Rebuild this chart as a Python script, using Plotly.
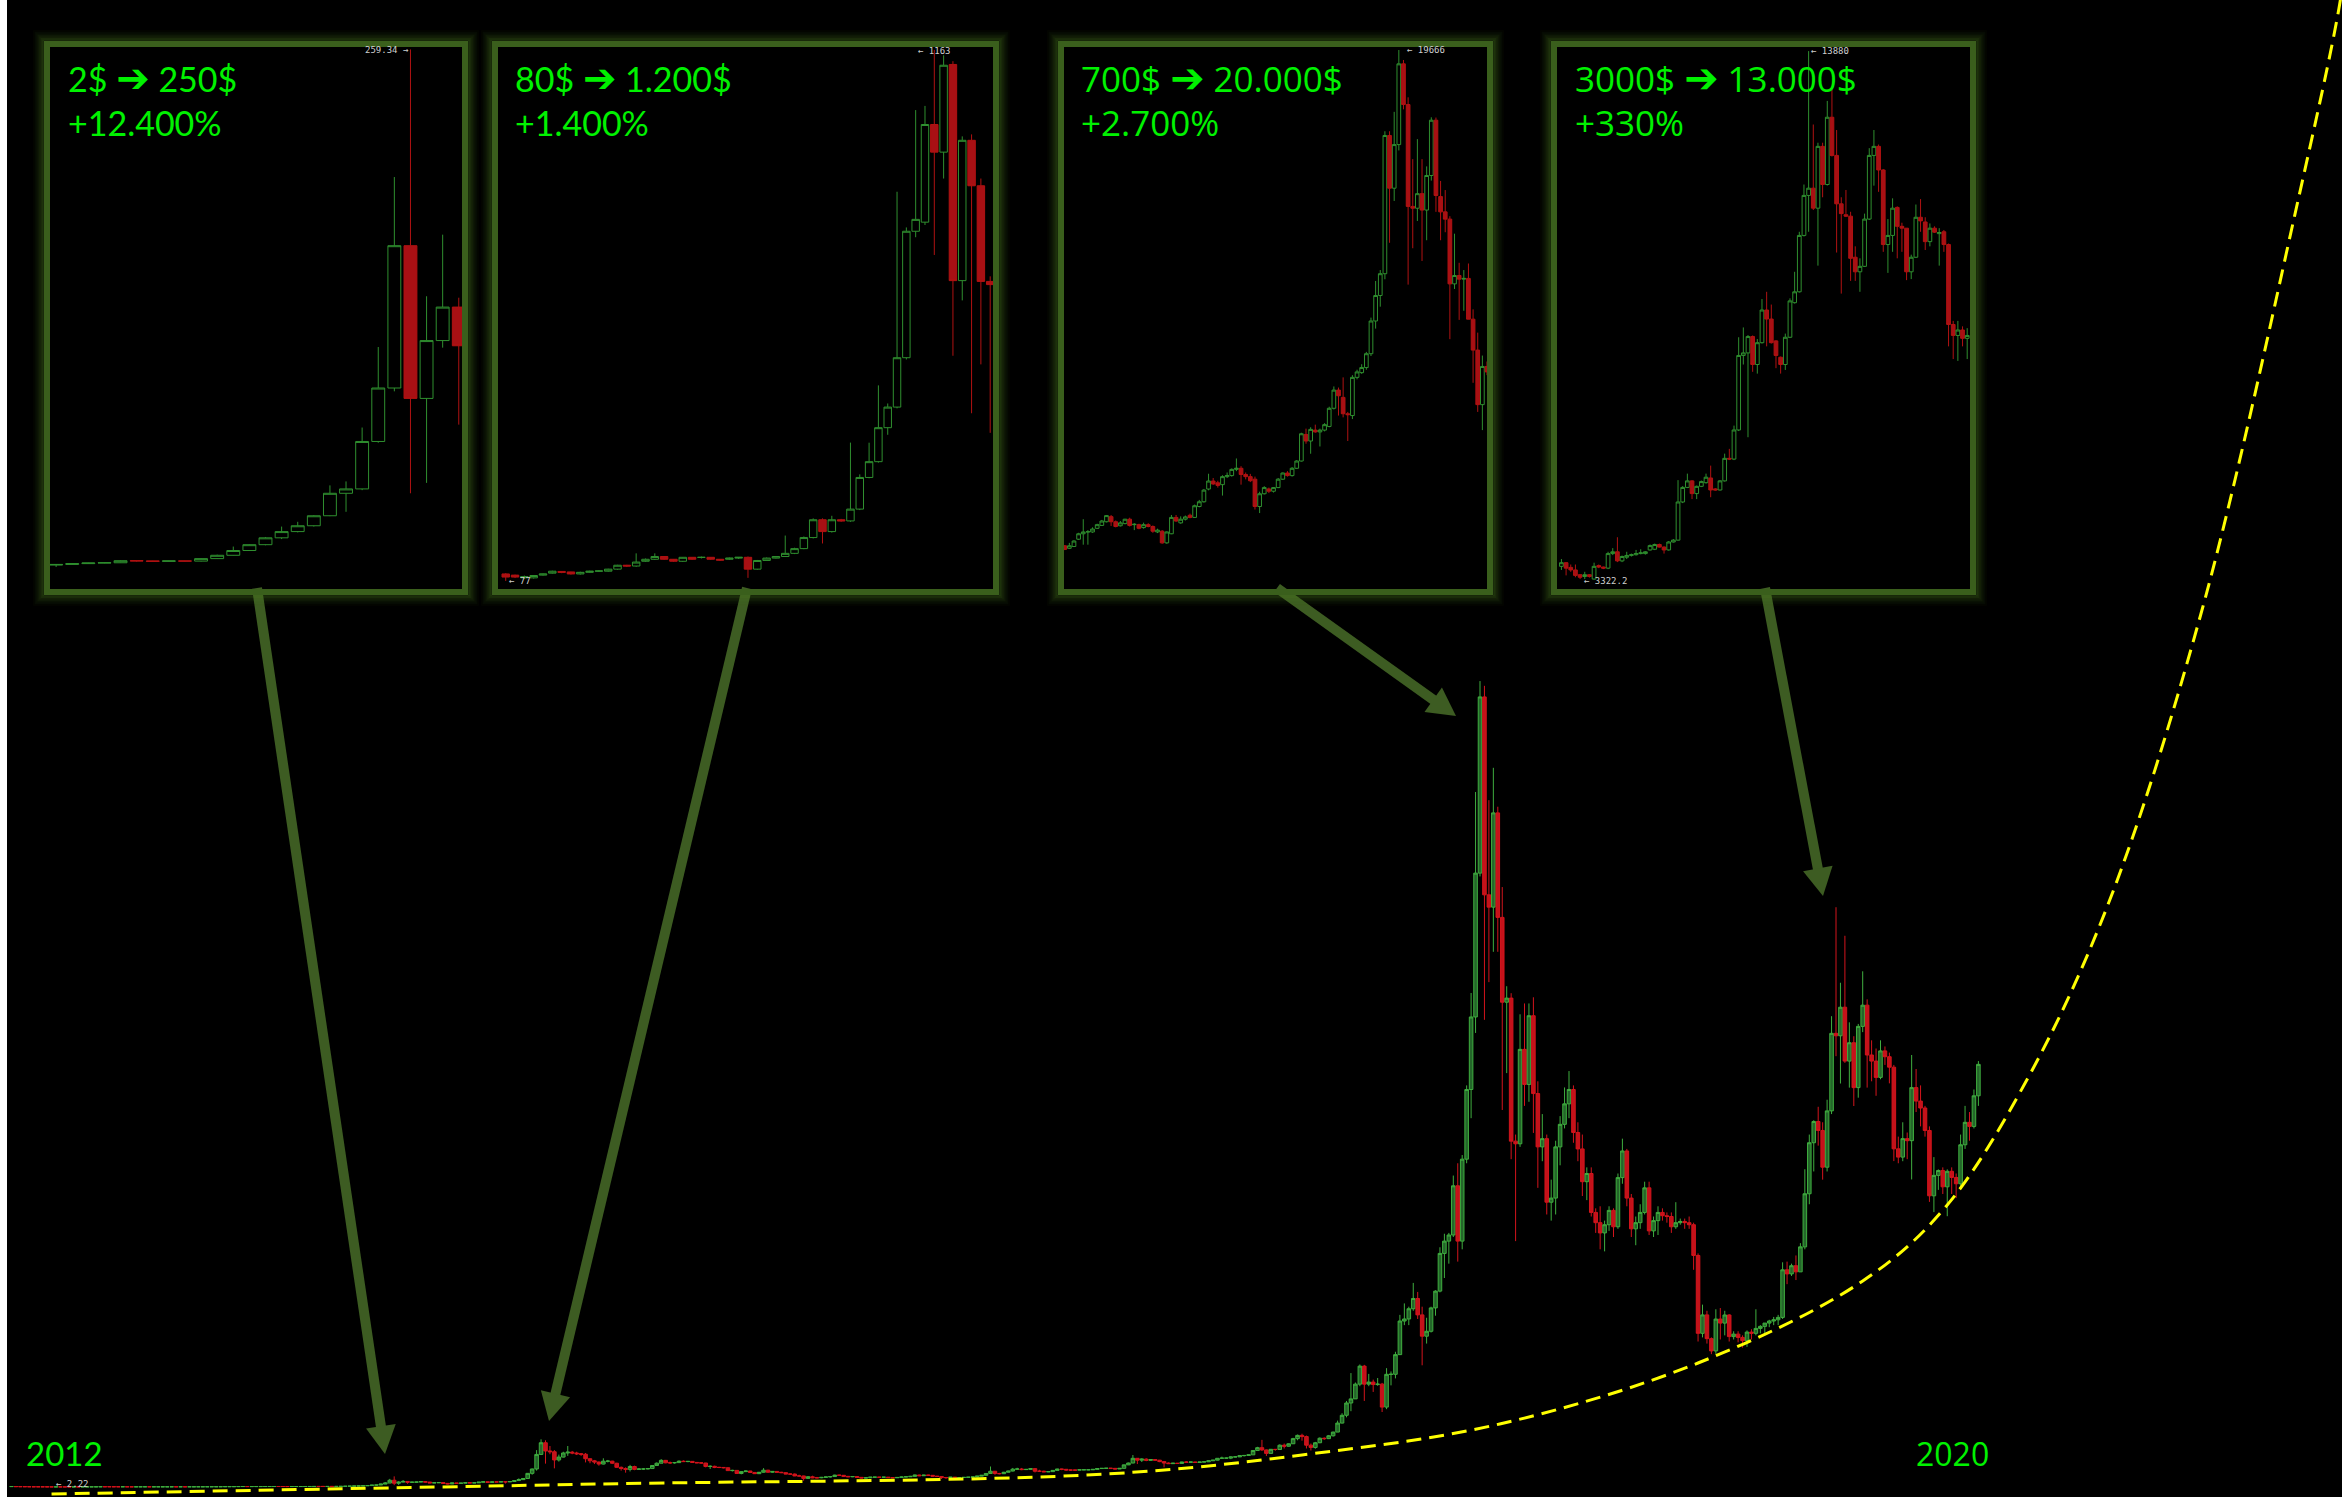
import pandas as pd
import plotly.graph_objects as go

W, H = 2342, 1497
ML = 7

# ---------------------------------------------------------------- main chart: weekly candles (USD)
FIRST_WEEK = "2011-08-15"
FIRST_OPEN = 10.9

C2011 = [11.0, 8.9, 8.2, 7.3, 5.8, 5.4, 5.1, 4.9, 4.0, 2.6, 3.2, 3.0, 2.9, 2.5, 3.0, 2.9, 3.2, 3.8, 3.9, 4.7]
H2011 = [11.9, 11.2, 9.0, 8.3, 7.4, 6.3, 5.6, 5.2, 5.0, 4.1, 3.4, 3.3, 3.1, 3.0, 3.2, 3.2, 3.3, 4.0, 4.2, 4.9]
L2011 = [10.6, 8.6, 7.9, 6.9, 5.4, 4.8, 4.7, 4.6, 3.8, 2.22, 2.5, 2.8, 2.7, 2.3, 2.5, 2.7, 2.8, 3.1, 3.6, 3.9]

C2012 = [6.8, 6.4, 6.3, 6.2, 5.6, 5.9, 5.0, 4.5, 4.9, 4.9, 5.3, 4.8, 4.9,
         4.9, 4.9, 5.0, 5.1, 5.0, 5.1, 5.0, 5.1, 5.1, 5.3, 5.6, 6.4, 6.6,
         6.7, 7.6, 8.7, 8.9, 9.3, 10.9, 11.9, 10.2, 10.7, 11.0, 11.3, 12.2, 12.3,
         12.4, 11.9, 11.7, 10.9, 11.5, 11.8, 12.2, 12.5, 12.6, 13.6, 13.5, 13.3, 13.5, 13.4]
H2012 = [7.2, 7.0, 6.9, 6.6, 6.3, 6.1, 6.0, 5.2, 5.1, 5.1, 5.4, 5.4, 5.0,
         5.0, 5.0, 5.1, 5.2, 5.2, 5.2, 5.2, 5.2, 5.2, 5.4, 5.7, 6.5, 6.8,
         6.9, 7.7, 8.9, 9.2, 9.5, 11.0, 15.4, 11.5, 10.9, 11.1, 11.6, 12.4, 12.5,
         12.6, 12.5, 12.0, 11.8, 11.6, 12.0, 12.4, 12.6, 12.8, 13.8, 13.7, 13.6, 13.6, 13.6]
L2012 = [4.6, 6.0, 5.9, 5.8, 5.5, 5.5, 4.3, 4.3, 4.4, 4.7, 4.8, 4.6, 4.7,
         4.8, 4.8, 4.8, 4.9, 4.9, 4.9, 4.9, 4.9, 5.0, 5.0, 5.3, 5.5, 6.2,
         6.4, 6.6, 7.5, 8.2, 8.8, 9.2, 10.6, 7.5, 9.9, 10.4, 10.8, 11.1, 11.8,
         12.0, 11.5, 11.4, 10.3, 10.6, 10.6, 11.7, 12.0, 12.4, 12.5, 13.2, 13.1, 13.2, 13.2]

C2013 = [14.6, 16.2, 18.5, 21.3, 24.6, 27.6, 30.4, 35.2, 46.0, 48.1, 70.9, 96.6,
         165, 91.6, 119.4, 135.5, 116.9, 117, 122, 131, 120, 100, 103, 108, 88,
         76, 98, 89, 95, 104, 101, 102, 118, 127, 115, 124, 123, 128, 125,
         134, 157, 180, 208, 333, 440, 795, 1080, 880, 860, 660, 730, 830]
H2013 = [14.8, 16.5, 20.4, 21.5, 25.0, 30.0, 32.3, 35.5, 49.8, 51.7, 77.6, 116.3,
         198, 259.34, 140.7, 170.3, 140, 128, 125, 133, 135, 124, 110, 112, 110,
         90, 100, 99, 97, 107, 106, 104, 120, 135, 130, 128, 128, 130, 131,
         136, 158, 210, 215, 340, 450, 900, 1163, 1140, 1000, 900, 790, 860]
L2013 = [13.2, 14.4, 16.3, 18.4, 21.0, 24.0, 27.2, 30.0, 35.0, 37.1, 47.5, 70.3,
         95, 46, 51, 116, 79, 105, 110, 120, 116, 98, 96, 97, 87,
         65, 70, 86, 87, 93, 97, 97, 100, 117, 110, 115, 120, 121, 85,
         118, 133, 155, 175, 205, 300, 400, 780, 570, 800, 455, 620, 720]

C2014 = [850, 830, 810, 800, 690, 640, 610, 560, 630, 630, 580, 480, 450,
         430, 500, 430, 440, 440, 450, 525, 580, 650, 590, 590, 595, 630,
         620, 625, 600, 590, 585, 500, 505, 480, 477, 470, 400, 405, 330,
         375, 390, 355, 325, 360, 410, 360, 380, 360, 350, 315, 315, 270]
H2014 = [1000, 880, 860, 830, 830, 700, 660, 620, 700, 660, 640, 590, 500,
         480, 540, 520, 460, 460, 460, 530, 600, 680, 660, 620, 610, 650,
         650, 635, 630, 605, 600, 590, 530, 520, 490, 480, 480, 420, 410,
         390, 400, 395, 360, 365, 460, 420, 385, 385, 370, 360, 330, 330]
L2014 = [760, 800, 780, 760, 600, 580, 560, 520, 550, 600, 560, 470, 400,
         350, 380, 410, 420, 420, 430, 445, 520, 580, 580, 560, 570, 590,
         610, 605, 590, 580, 570, 480, 440, 460, 460, 455, 390, 380, 320,
         310, 370, 350, 320, 320, 350, 350, 350, 355, 340, 310, 305, 265]

C2015 = [270, 210, 250, 225, 225, 235, 245, 255, 290, 285, 260, 250, 255,
         235, 220, 225, 240, 240, 237, 240, 230, 225, 233, 245, 250, 260,
         292, 275, 289, 285, 265, 257, 230, 229, 240, 230, 232, 235, 240,
         245, 265, 285, 330, 385, 330, 325, 360, 390, 435, 440, 425, 430]
H2015 = [300, 275, 265, 275, 245, 245, 250, 265, 300, 300, 290, 270, 260,
         260, 240, 237, 245, 245, 245, 245, 242, 235, 236, 253, 260, 270,
         300, 300, 300, 300, 290, 270, 260, 240, 245, 245, 240, 240, 245,
         250, 270, 290, 335, 500, 390, 345, 370, 395, 465, 470, 465, 440]
L2015 = [260, 152, 205, 215, 210, 215, 230, 230, 250, 270, 250, 240, 240,
         230, 215, 215, 220, 230, 232, 232, 225, 220, 222, 230, 240, 248,
         255, 265, 270, 280, 260, 255, 195, 200, 225, 228, 225, 225, 230,
         235, 240, 265, 280, 325, 300, 310, 320, 355, 380, 420, 410, 415]

C2016 = [448, 385, 385, 370, 375, 405, 438, 432, 415, 412, 412, 420, 420,
         420, 430, 450, 455, 458, 455, 440, 455, 540, 585, 700, 655, 680,
         650, 670, 655, 620, 585, 570, 580, 575, 610, 605, 610, 600, 610,
         615, 640, 655, 700, 705, 705, 735, 735, 765, 770, 785, 890, 960]
H2016 = [460, 455, 420, 400, 380, 410, 445, 445, 440, 420, 418, 420, 425,
         425, 432, 455, 462, 460, 462, 458, 456, 545, 595, 780, 690, 700,
         700, 680, 680, 660, 630, 600, 590, 585, 615, 630, 615, 612, 612,
         620, 645, 660, 705, 740, 720, 750, 745, 770, 780, 790, 900, 980]
L2016 = [425, 355, 370, 365, 365, 370, 400, 410, 395, 395, 405, 410, 412,
         410, 420, 428, 440, 440, 445, 435, 440, 455, 535, 580, 560, 610,
         630, 640, 650, 605, 480, 565, 565, 565, 570, 595, 600, 590, 595,
         605, 612, 635, 650, 690, 690, 680, 725, 730, 745, 765, 785, 880]

C2017 = [905, 820, 920, 915, 1020, 995, 1055, 1180, 1260, 1230, 1020, 965, 1080,
         1190, 1180, 1250, 1340, 1560, 1750, 2050, 2150, 2510, 2950, 2510, 2560, 2500,
         2510, 1950, 2750, 2750, 3230, 4050, 4100, 4350, 4600, 4200, 3680, 3800, 4370,
         4780, 5700, 6000, 6150, 7350, 6000, 8000, 9700, 11470, 14980, 19280, 14450, 14150]
H2017 = [1150, 915, 920, 925, 1040, 1060, 1065, 1200, 1280, 1300, 1255, 1060, 1100,
         1210, 1210, 1270, 1350, 1620, 1800, 2100, 2780, 2550, 2990, 2980, 2760, 2620,
         2660, 2540, 2900, 2820, 3300, 4200, 4480, 4400, 4980, 4760, 4400, 4130, 4400,
         4800, 5850, 6180, 6200, 7600, 7900, 8100, 9800, 12055, 16960, 19666, 19550, 16760]
L2017 = [880, 755, 815, 885, 910, 940, 985, 1050, 1140, 1130, 940, 890, 935,
         1070, 1150, 1170, 1230, 1340, 1550, 1700, 1850, 2150, 2460, 2100, 2460, 2320,
         2470, 1830, 1900, 2480, 2650, 3220, 3950, 3950, 4300, 4100, 2970, 3500, 3770,
         4180, 4750, 5100, 5450, 6100, 5500, 5800, 7900, 9000, 11080, 14900, 11400, 12320]

C2018 = [16450, 13900, 11830, 11930, 8440, 8375, 10679, 9823, 11500, 9600, 8300, 8500, 6950,
         7050, 8300, 8850, 9350, 9700, 8650, 8250, 7450, 7650, 6700, 6450, 6200, 6400,
         6750, 6350, 7550, 8200, 7050, 6300, 6450, 6700, 7300, 6250, 6500, 6700, 6620,
         6600, 6350, 6450, 6480, 6450, 6400, 5650, 3750, 4200, 3620, 3321, 4098, 3999, 4198]
H2018 = [17550, 16600, 14640, 12220, 12050, 8600, 11535, 11800, 11800, 11950, 9900, 9100, 8600,
         7500, 8450, 9050, 9750, 10150, 9800, 8900, 8600, 7800, 7800, 6800, 6850, 6500,
         6850, 6800, 7650, 8500, 8250, 7150, 6600, 6900, 7450, 7450, 6600, 6850, 6800,
         6700, 6700, 6950, 6550, 6550, 6600, 6450, 5700, 4450, 4300, 3650, 4337, 4367, 4300]
L2018 = [13060, 13060, 9200, 10100, 8000, 6000, 8300, 9300, 9400, 8640, 7300, 7950, 6650,
         6500, 6650, 7850, 8750, 9000, 8400, 7950, 7100, 7000, 6600, 6200, 5800, 5750,
         6250, 6100, 6300, 7400, 6850, 6100, 5900, 6300, 6650, 6150, 6100, 6150, 6500,
         6450, 6200, 6300, 6400, 6300, 6300, 5300, 3550, 3650, 3500, 3242, 3250, 3600, 3700]

C2019 = [3670, 3730, 3650, 3570, 3780, 3750, 3870, 3920, 4000, 4050, 4080, 4139,
         5300, 5200, 5400, 5250, 5860, 7156, 8401, 8919, 8700, 7804, 9178, 11070, 11011,
         11708, 10393, 10841, 9746, 11240, 11758, 10542, 10393, 9995,
         10642, 10500, 10244, 8252, 8050, 8501, 8451, 9746, 9417,
         9248, 8700, 7106, 7604, 7724, 7325, 7704, 7554, 7400]
H2019 = [4218, 3800, 3800, 3700, 3820, 3850, 4337, 3950, 4000, 4080, 4150, 4200,
         5483, 5500, 5450, 5650, 5950, 7754, 8600, 8950, 9278, 8900, 9450, 11489, 14148,
         12305, 13451, 11339, 11000, 11300, 12584, 11900, 10900, 10700,
         10900, 10750, 10600, 10300, 8550, 8900, 8650, 10542, 10200,
         9800, 9300, 8800, 8050, 7750, 7800, 7750, 7800, 7650]
L2019 = [3550, 3600, 3530, 3400, 3420, 3600, 3700, 3750, 3700, 3900, 3950, 3950,
         4100, 4950, 5150, 5050, 5250, 5800, 6900, 7700, 8330, 7500, 7700, 9100, 10513,
         9846, 10350, 9746, 9297, 9500, 11100, 9746, 9900, 9546,
         9950, 10300, 9850, 7953, 7900, 7950, 8000, 7505, 9150,
         8800, 8550, 6957, 6708, 7250, 7150, 6608, 7150, 7050]

C2020 = [8351, 8899, 8799, 9546, 10313]
H2020 = [8600, 9300, 9150, 9700, 10393]
L2020 = [7350, 8250, 8450, 8750, 9300]

CLOSE = C2011 + C2012 + C2013 + C2014 + C2015 + C2016 + C2017 + C2018 + C2019 + C2020
HIGH = H2011 + H2012 + H2013 + H2014 + H2015 + H2016 + H2017 + H2018 + H2019 + H2020
LOW = L2011 + L2012 + L2013 + L2014 + L2015 + L2016 + L2017 + L2018 + L2019 + L2020
OPEN = [FIRST_OPEN] + CLOSE[:-1]
WEEKS = pd.date_range(FIRST_WEEK, periods=len(CLOSE), freq="7D")

# yellow dashed support curve
CURVE_DATES = ["2011-10-17", "2014-02-24", "2016-05-02", "2017-03-06", "2018-01-11",
               "2018-11-19", "2019-08-05", "2019-12-12", "2020-04-20", "2020-08-24",
               "2021-01-18", "2021-06-21", "2021-08-23", "2021-09-05"]
CURVE_VALUES = [-171, 73, 317, 781, 1537, 3026, 5027, 6808, 9956, 14178,
                21303, 31479, 36066, 37500]

# ---------------------------------------------------------------- inset 1 (weekly slice of main data)
INSET1_FROM, INSET1_TO = "2012-11-05", "2013-04-29"

# ---------------------------------------------------------------- inset 2 (3-day candles, 2013)
INSET2_START = "2013-07-14"
I2_O = [91.4, 89, 83.4, 83.4, 89, 93, 96.5, 95.5, 91.4, 94.7,
        97, 97, 101.2, 109.2, 107.6, 117.3, 121.4, 127, 121.4, 117.3,
        125.4, 125, 125.4, 121.4, 121.4, 123.8, 125.4, 101.2, 118.9, 123.8,
        127, 133.5, 143.2, 165.8, 202.2, 178, 202.2, 199.8, 224, 288.7,
        321, 390.5, 432.6, 533.6, 792.2, 810.8, 1010.5, 954, 1133.3, 691.2,
        978.2, 885.2, 689.6]
I2_H = [93, 90, 88, 89, 92, 98, 97, 96, 96, 98,
        99, 102, 110, 110, 133.5, 123, 133.5, 128, 122, 126,
        126, 127, 126, 122, 125, 126, 127, 120, 125, 128,
        169.9, 145, 168, 205, 205, 210.3, 204, 360, 295, 359.8,
        477, 440, 873, 800, 1040, 1048.5, 1163, 1152, 1140, 986.2,
        990.3, 900, 700]
I2_L = [77, 83, 82, 82, 88, 92, 93, 90, 90, 94,
        96, 96, 100, 106, 106, 116, 120, 120, 116, 116,
        120, 123, 120, 118, 120, 122, 83.4, 100, 118, 123,
        126, 132, 142, 164, 153.7, 176, 198, 198, 222, 287,
        319, 376, 430, 530, 780, 805, 743.7, 900, 537.6, 650.8,
        420, 520, 380]
I2_C = [85, 85, 86, 88.2, 91.4, 97, 94.7, 91.4, 94.7, 97,
        97.5, 101.2, 109.2, 107.6, 115.7, 121.4, 127, 121.4, 117.3, 125.4,
        121.4, 125.4, 121.4, 119.7, 123.8, 125.4, 101.2, 118.9, 123.8, 127,
        133.5, 143.2, 165.8, 202.2, 178, 202.2, 199.8, 224, 288.7, 321,
        390.5, 432.6, 533.6, 792.2, 816.5, 1010.5, 954, 1131.7, 691.2, 978.2,
        885.2, 689.6, 683.1]

# ---------------------------------------------------------------- inset 3 (3-day candles, 2017)
INSET3_START = "2017-05-13"
I3_O = [1577, 1484, 1551, 1816, 2015, 2081, 2081, 2214, 2320, 2453,
        2639, 2453, 2307, 2386, 2546, 2347, 2347, 2241, 2347, 2280,
        2081, 2108, 1683, 2015, 2612, 2413, 2546, 2690, 2612, 3010,
        3183, 3647, 3939, 3873, 3807, 4099, 4138, 4364, 4404, 4178,
        4099, 4006, 3010, 3475, 3650, 3567, 3700, 4006, 4231, 4138,
        4404, 4669, 5638, 5399, 5797, 5731, 5797, 5930, 6593, 7257,
        6991, 6394, 6328, 7721, 7894, 8079, 8584, 9778, 10707, 11503,
        16546, 14622, 16214, 19160, 17674, 13958, 13892, 14423, 13825, 15086,
        17103, 14316, 13759, 13494, 11132, 11437, 11304, 11331, 9844, 8716,
        6726, 8119]
I3_H = [1600, 1683, 1780, 2050, 2546, 2150, 2250, 2380, 2520, 2700,
        2700, 2500, 2480, 2560, 2600, 2400, 2380, 2420, 2400, 2320,
        2200, 2150, 2100, 2700, 2700, 2650, 2680, 2750, 3080, 3250,
        3650, 4205, 4050, 3950, 4150, 4250, 4400, 4762, 4480, 4250,
        4200, 4100, 3550, 3750, 3700, 3720, 4050, 4250, 4300, 4450,
        4700, 5700, 5850, 5900, 5996, 5850, 6050, 6650, 7390, 7350,
        7721, 6460, 7800, 8000, 8200, 8650, 9900, 11238, 11636, 16700,
        16700, 17408, 19664, 19300, 17939, 15683, 16413, 15683, 15418, 17209,
        17200, 14887, 14555, 13600, 12963, 11901, 11636, 11875, 10203, 9353,
        8517, 8300]
I3_L = [1420, 1460, 1530, 1790, 1617, 1617, 2050, 2190, 2300, 2430,
        2300, 2250, 2280, 2360, 2280, 2148, 2180, 2200, 2250, 2050,
        2040, 1650, 1650, 2000, 2450, 2380, 2500, 2580, 2600, 2980,
        3150, 3600, 3800, 3700, 3408, 4050, 4100, 4300, 3807, 4000,
        3900, 2900, 2771, 3450, 3500, 3520, 3680, 3980, 4100, 4100,
        4380, 4650, 5300, 4935, 5700, 5200, 5750, 5900, 6550, 6328,
        6262, 5399, 6200, 7650, 7850, 8000, 8500, 9500, 10300, 11300,
        12631, 14157, 16000, 17500, 11105, 12432, 13427, 11968, 12724, 14900,
        13759, 12724, 13016, 9115, 10946, 9818, 10150, 9844, 7523, 6460,
        5797, 7800]
I3_C = [1444, 1577, 1750, 2015, 2081, 2090, 2187, 2347, 2480, 2678,
        2453, 2280, 2413, 2546, 2320, 2360, 2214, 2347, 2280, 2108,
        2148, 1683, 2081, 2612, 2480, 2546, 2630, 2610, 3037, 3183,
        3608, 3939, 3833, 3780, 4099, 4138, 4364, 4404, 4178, 4099,
        3950, 3010, 3475, 3700, 3567, 3700, 4006, 4231, 4138, 4404,
        4669, 5664, 5399, 5824, 5731, 5797, 5996, 6593, 7257, 7050,
        6394, 6360, 7721, 7920, 8079, 8584, 9778, 10707, 11503, 16546,
        14622, 16214, 19160, 17674, 13958, 13892, 14423, 13825, 15086, 17103,
        14356, 13759, 13494, 11132, 11437, 11304, 11331, 9844, 8716, 6726,
        8119, 7920]

# ---------------------------------------------------------------- inset 4 (3-day candles, 2019)
INSET4_START = "2019-01-18"
I4_O = [3575, 3648, 3554, 3503, 3408, 3372, 3408, 3321, 3590, 3561,
        3539, 3830, 3866, 3684, 3757, 3793, 3808, 3830, 3830, 3903,
        3917, 4012, 3960, 3903, 4062, 4099, 4862, 5153, 5284, 5030,
        5175, 5248, 5342, 5124, 5102, 5284, 5735, 5720, 6302, 7792,
        7843, 8170, 7611, 8047, 8701, 8520, 8083, 7756, 7611, 8156,
        8847, 9065, 10192, 10992, 11137, 10737, 11973, 11210, 12555, 11792,
        10824, 10606, 10577, 9756, 9465, 9574, 10519, 11792, 11973, 11501,
        10010, 10192, 10752, 10374, 10337, 9465, 9756, 10555, 10461, 10068,
        10337, 10228, 10265, 10010, 8411, 8192, 8301, 8134]
I4_H = [3721, 3660, 3612, 3612, 3420, 3466, 3420, 3648, 3612, 3570,
        3866, 3939, 4157, 3790, 3866, 3830, 3903, 3917, 3880, 4012,
        4030, 4030, 3975, 4080, 4120, 5299, 5180, 5429, 5300, 5190,
        5290, 5429, 5589, 5140, 5300, 5829, 5924, 6389, 8156, 8352,
        8200, 8192, 8120, 8920, 9065, 8810, 8100, 7770, 8229, 8934,
        9465, 10265, 11210, 13878, 12410, 12046, 12046, 12882, 13137, 12300,
        10955, 11101, 10665, 9974, 9734, 10628, 11937, 12300, 12010, 11520,
        10519, 10934, 10774, 10446, 10337, 9807, 10810, 10919, 10555, 10432,
        10374, 10337, 10301, 10030, 8483, 8483, 8374, 8338]
I4_L = [3503, 3394, 3466, 3357, 3321, 3321, 3350, 3310, 3539, 3520,
        3520, 3800, 3660, 3660, 3721, 3770, 3790, 3815, 3810, 3890,
        3900, 3950, 3830, 3890, 4050, 4090, 4840, 5140, 4920, 4920,
        5160, 5230, 4957, 5090, 5090, 5270, 5700, 5700, 6280, 7611,
        6157, 7465, 7429, 8030, 7974, 8030, 7538, 7429, 7502, 8140,
        8830, 9050, 10170, 10265, 10700, 9588, 10955, 11190, 11770, 9850,
        9029, 10560, 9283, 9283, 9065, 9560, 10500, 11188, 11064, 9864,
        9443, 9864, 9734, 9864, 9298, 9319, 9740, 10265, 9901, 9974,
        10240, 9588, 9864, 7974, 7720, 7683, 7974, 7720]
I4_C = [3648, 3539, 3503, 3394, 3357, 3408, 3372, 3575, 3561, 3539,
        3830, 3866, 3684, 3772, 3793, 3808, 3830, 3844, 3866, 3990,
        4012, 3960, 3903, 4062, 4099, 4862, 5153, 5284, 5030, 5175,
        5270, 5357, 5102, 5102, 5284, 5735, 5720, 6302, 7792, 7843,
        8170, 7611, 8047, 8701, 8520, 8047, 7792, 7611, 8156, 8883,
        9065, 10192, 10992, 11137, 10737, 11973, 11210, 12555, 11792, 10824,
        10628, 10577, 9734, 9465, 9574, 10519, 11792, 11973, 11501, 10010,
        10192, 10737, 10374, 10337, 9465, 9756, 10555, 10483, 10068, 10337,
        10257, 10250, 10010, 8411, 8192, 8301, 8134, 8192]

LABELS = [("2$", "250$", "+12.400%"), ("80$", "1.200$", "+1.400%"),
          ("700$", "20.000$", "+2.700%"), ("3000$", "13.000$", "+330%")]
ARROW_CHAR = "➔"
YEAR_LABELS = ["2012", "2020"]

# ================================================================ layout helpers (pixel -> paper)
def fx(px):
    return (px - ML) / (W - ML)


def fy(py):
    return 1 - py / H


t0 = pd.Timestamp("2017-12-11")
PXW = 4.45          # pixels per weekly candle
X_PEAK = 1480       # pixel position of the 2017-12-11 candle
Y_ZERO = 1487       # pixel of price 0
PX_PER_USD = 0.04098


def wk(n):
    return t0 + pd.Timedelta(days=7 * n)


fig = go.Figure()

INC_MAIN = dict(line=dict(color="#3fae3f", width=1), fillcolor="#24662a")
DEC_MAIN = dict(line=dict(color="#d3141c", width=1), fillcolor="#c4121a")
INC_IN = dict(line=dict(color="#2f8f2f", width=1), fillcolor="#000000")
DEC_IN = dict(line=dict(color="#b01212", width=1), fillcolor="#a81014")

fig.add_trace(go.Scatter(x=CURVE_DATES, y=CURVE_VALUES, mode="lines",
                         line=dict(color="#ffff00", width=3, dash="15px,8px",
                                   shape="spline", smoothing=1.0),
                         hoverinfo="skip", showlegend=False))
fig.add_trace(go.Candlestick(x=WEEKS, open=OPEN, high=HIGH, low=LOW, close=CLOSE,
                             increasing=INC_MAIN, decreasing=DEC_MAIN,
                             whiskerwidth=0, showlegend=False, hoverinfo="skip"))

# inset 1 data
m1 = (WEEKS >= pd.Timestamp(INSET1_FROM)) & (WEEKS <= pd.Timestamp(INSET1_TO))
idx1 = [i for i, ok in enumerate(m1) if ok]
ins_data = [
    (WEEKS[m1], [OPEN[i] for i in idx1], [HIGH[i] for i in idx1],
     [LOW[i] for i in idx1], [CLOSE[i] for i in idx1]),
    (pd.date_range(INSET2_START, periods=len(I2_C), freq="3D"), I2_O, I2_H, I2_L, I2_C),
    (pd.date_range(INSET3_START, periods=len(I3_C), freq="3D"), I3_O, I3_H, I3_L, I3_C),
    (pd.date_range(INSET4_START, periods=len(I4_C), freq="3D"), I4_O, I4_H, I4_L, I4_C),
]

BOX_X = [(50, 462), (498, 993), (1064, 1487), (1557, 1970)]
BOX_Y = (47, 589)
STEP_DAYS = [7, 3, 3, 3]
XSPAN = [(-0.38, 25.2), (-0.83, 52.3), (-0.15, 91.0), (-0.95, 87.6)]
YSPAN = [(0, 260.5), (60.6, 1169), (0, 19774), (3122, 13960)]

for k, (xs, o, h, l, c) in enumerate(ins_data):
    n = k + 2
    fig.add_trace(go.Candlestick(x=xs, open=o, high=h, low=l, close=c,
                                 increasing=INC_IN, decreasing=DEC_IN, whiskerwidth=0,
                                 xaxis="x%d" % n, yaxis="y%d" % n,
                                 showlegend=False, hoverinfo="skip"))

layout = dict(
    width=W, height=H,
    margin=dict(l=ML, r=0, t=0, b=0),
    paper_bgcolor="#ffffff", plot_bgcolor="#000000",
    showlegend=False,
    boxgap=0.2, boxgroupgap=0.0,
    xaxis=dict(range=[wk((ML - X_PEAK) / PXW), wk((W - X_PEAK) / PXW)],
               visible=False, rangeslider=dict(visible=False), fixedrange=True),
    yaxis=dict(range=[(Y_ZERO - H) / PX_PER_USD, Y_ZERO / PX_PER_USD],
               visible=False, fixedrange=True),
)
for k in range(4):
    n = k + 2
    xs0 = ins_data[k][0][0]
    a, b = XSPAN[k]
    layout["xaxis%d" % n] = dict(
        domain=[fx(BOX_X[k][0]), fx(BOX_X[k][1])], anchor="y%d" % n,
        range=[xs0 + pd.Timedelta(days=STEP_DAYS[k] * a), xs0 + pd.Timedelta(days=STEP_DAYS[k] * b)],
        visible=False, rangeslider=dict(visible=False), fixedrange=True)
    layout["yaxis%d" % n] = dict(
        domain=[fy(BOX_Y[1]), fy(BOX_Y[0])], anchor="x%d" % n,
        range=list(YSPAN[k]), visible=False, fixedrange=True)
fig.update_layout(**layout)

shapes = []
ARROW = "#3d5c22"
ARROWS = [((257, 588), (385, 1454)), ((747, 588), (549, 1421)),
          ((1277, 588), (1456, 716)), ((1765, 588), (1823, 896))]
for (x0, y0), (x1, y1) in ARROWS:
    dx, dy = x1 - x0, y1 - y0
    ln = (dx * dx + dy * dy) ** 0.5
    ux, uy = dx / ln, dy / ln
    hl, hw = 28, 15
    bx, by = x1 - ux * hl, y1 - uy * hl
    shapes.append(dict(type="line", xref="paper", yref="paper",
                       x0=fx(x0), y0=fy(y0), x1=fx(bx + ux * 2), y1=fy(by + uy * 2),
                       line=dict(color=ARROW, width=10)))
    p1 = (bx - uy * hw, by + ux * hw)
    p2 = (bx + uy * hw, by - ux * hw)
    shapes.append(dict(type="path", xref="paper", yref="paper",
                       path="M %f %f L %f %f L %f %f Z" % (fx(x1), fy(y1), fx(p1[0]), fy(p1[1]),
                                                         fx(p2[0]), fy(p2[1])),
                       fillcolor=ARROW, line=dict(width=0)))


def rect(x0, y0, x1, y1, color, width):
    shapes.append(dict(type="rect", xref="paper", yref="paper",
                       x0=fx(x0), x1=fx(x1), y0=fy(y1), y1=fy(y0),
                       line=dict(color=color, width=width), fillcolor="rgba(0,0,0,0)"))


GLOW = [(16, 0.05), (14.5, 0.09), (13, 0.14), (11.5, 0.2), (10, 0.28), (8.5, 0.36), (7, 0.45)]
for (bx0, bx1) in BOX_X:
    by0, by1 = BOX_Y
    for e, a in GLOW:
        rect(bx0 - e, by0 - e, bx1 + e, by1 + e, "rgba(72,120,28,%.2f)" % a, 1.6)
    rect(bx0 - 3, by0 - 3, bx1 + 3, by1 + 3, "#3a5f1c", 6)

GREEN = "#00f200"
anns = []
TEXT_LEFT = [66, 513, 1079, 1573]
for k, (a_txt, b_txt, pct) in enumerate(LABELS):
    fam = "Lato" if k < 2 else "Open Sans"
    size = 34 if k < 2 else 35
    line1 = ('%s <span style="font-family:DejaVu Sans;font-size:%dpx">%s</span> %s'
             % (a_txt, size + 6, ARROW_CHAR, b_txt))
    for txt, py in [(line1, 78), (pct, 123)]:
        anns.append(dict(text=txt, xref="paper", yref="paper", x=fx(TEXT_LEFT[k]), y=fy(py),
                         xanchor="left", yanchor="middle", showarrow=False,
                         font=dict(family=fam, size=size, color=GREEN)))

anns.append(dict(text=YEAR_LABELS[0], xref="paper", yref="paper", x=fx(24), y=fy(1453),
                 xanchor="left", yanchor="middle", showarrow=False,
                 font=dict(family="Lato", size=33, color=GREEN)))
anns.append(dict(text=YEAR_LABELS[1], xref="paper", yref="paper", x=fx(1914), y=fy(1453),
                 xanchor="left", yanchor="middle", showarrow=False,
                 font=dict(family="Open Sans", size=32, color=GREEN)))

TINY = [("← 2.22", 54, 1484, "left"), ("259.34 →", 411, 50, "right"),
        ("← 1163", 916, 51, "left"), ("← 77", 507, 581, "left"),
        ("← 19666", 1405, 50, "left"), ("← 13880", 1809, 51, "left"),
        ("← 3322.2", 1582, 581, "left")]
for txt, px, py, anc in TINY:
    anns.append(dict(text=txt, xref="paper", yref="paper", x=fx(px), y=fy(py),
                     xanchor=anc, yanchor="middle", showarrow=False,
                     font=dict(family="DejaVu Sans Mono", size=9, color="#cfcfcf")))

fig.update_layout(shapes=shapes, annotations=anns)
fig.write_html("out.html", config={"displayModeBar": False},
               post_script="document.body.style.margin='0';document.body.style.padding='0';")
